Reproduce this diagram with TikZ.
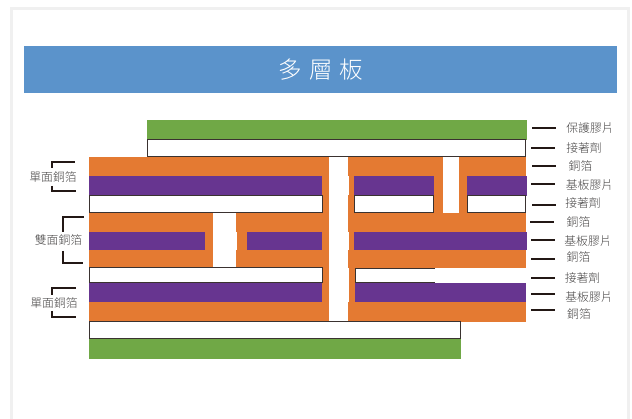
\documentclass[tikz,border=0pt]{standalone}
\usepackage{fontspec}
\newfontfamily\cjk[UprightFont=* Light]{Noto Sans CJK TC}
\definecolor{fgreen}{HTML}{70A846}
\definecolor{forange}{HTML}{E47A32}
\definecolor{fpurple}{HTML}{673590}
\definecolor{fblue}{HTML}{5B93CB}
\definecolor{fframe}{HTML}{F0F0F0}
\definecolor{fink}{HTML}{231815}
\definecolor{fedge}{HTML}{3A3230}
\definecolor{ftext}{HTML}{454343}
\tikzset{
  copper/.style={fill=forange,draw=none},
  film/.style={fill=fpurple,draw=none},
  cover/.style={fill=fgreen,draw=none},
  hole/.style={fill=white,draw=none},
  glue/.style={fill=white,draw=fedge,line width=1pt},
  tick/.style={draw=fink,line width=2.2pt},
  brace/.style={draw=fink,line width=2.2pt},
  lab/.style={font=\cjk\fontsize{11.8}{12}\selectfont,text=ftext,inner sep=0pt,anchor=center},
}
\begin{document}
\begin{tikzpicture}[x=1pt,y=-1pt]
\useasboundingbox (0,0) rectangle (632,419);
\fill[white] (0,0) rectangle (632,419);
% frame
\draw[fframe,line width=3pt] (11,419) -- (11,9) -- (628,9) -- (628,419);
% title
\fill[fblue] (24,46) rectangle (617,93);
\node[inner sep=0pt,text=white,font=\cjk\fontsize{23.5}{24}\selectfont] (title) at (321,70) {多\hspace{7pt}層\hspace{7pt}板};
% covers
\path[cover] (147,120) rectangle (527,140);
\path[cover] (89,339) rectangle (461,359);
% copper body
\path[copper] (89,157) rectangle (526,322);
% films
\path[film] (89,176) rectangle (322,195.5);
\path[film] (354,176) rectangle (434,195.5);
\path[film] (467,176) rectangle (527,196);
\path[film] (89,232) rectangle (205,250);
\path[film] (247,232) rectangle (322,250);
\path[film] (354,232) rectangle (527,250);
\path[film] (89,283) rectangle (322,302);
\path[film] (355,283) rectangle (526,302);
% holes
\path[hole] (329,157) rectangle (348,322);
\path[hole] (329,176.5) rectangle (349,195);
\path[hole] (329,232) rectangle (349,250);
\path[hole] (329,268) rectangle (349,302);
\path[hole] (443,157) rectangle (459,213);
\path[hole] (213,213) rectangle (236,268);
\path[hole] (213,232) rectangle (237,250);
% adhesive
\path[glue] (147.5,140) rectangle (525.5,156.5);
\path[glue] (89.5,195.5) rectangle (322.8,213);
\path[glue] (354.8,196) rectangle (433.7,212.5);
\path[glue] (467.5,196) rectangle (525.5,212.5);
\path[glue] (89.5,268) rectangle (322.3,283);
\path[hole] (355,268) rectangle (526.5,283);
\draw[fedge,line width=1pt] (435,268.3) -- (355.6,268.3) -- (355.6,283) -- (435,283);
\path[glue] (89.5,321.5) rectangle (460,338.5);
% right ticks
\draw[tick] (532,128) -- (556,128);
\draw[tick] (531,148) -- (555,148);
\draw[tick] (532,166) -- (556,166);
\draw[tick] (531,184) -- (555,184);
\draw[tick] (532,205) -- (556,205);
\draw[tick] (530,222) -- (554,222);
\draw[tick] (531,240) -- (555,240);
\draw[tick] (531,259) -- (555,259);
\draw[tick] (531,278) -- (555,278);
\draw[tick] (531,294) -- (555,294);
\draw[tick] (531,310) -- (555,310);
% right labels
\node[lab] (r1) at (590,128.5) {保護膠片};
\node[lab] (r2) at (584,148) {接著劑};
\node[lab] (r3) at (580.5,166) {銅箔};
\node[lab] (r4) at (589.5,185) {基板膠片};
\node[lab] (r5) at (583,203.5) {接著劑};
\node[lab] (r6) at (578.5,222) {銅箔};
\node[lab] (r7) at (588,241) {基板膠片};
\node[lab] (r8) at (578.5,257) {銅箔};
\node[lab] (r9) at (582.5,278) {接著劑};
\node[lab] (r10) at (589,297) {基板膠片};
\node[lab] (r11) at (579,314) {銅箔};
% left labels
\node[lab] (l1) at (53,177) {單面銅箔};
\node[lab] (l2) at (58.5,240) {雙面銅箔};
\node[lab] (l3) at (54,303.5) {單面銅箔};
% brackets
\draw[brace] (52,168) -- (52,162) -- (75,162);
\draw[brace] (52,186) -- (52,191) -- (76,191);
\draw[brace] (63,232) -- (63,217) -- (84,217);
\draw[brace] (63,251) -- (63,263) -- (83,263);
\draw[brace] (52,295) -- (52,288) -- (76,288);
\draw[brace] (52,311) -- (52,317) -- (76,317);
\end{tikzpicture}
\end{document}
